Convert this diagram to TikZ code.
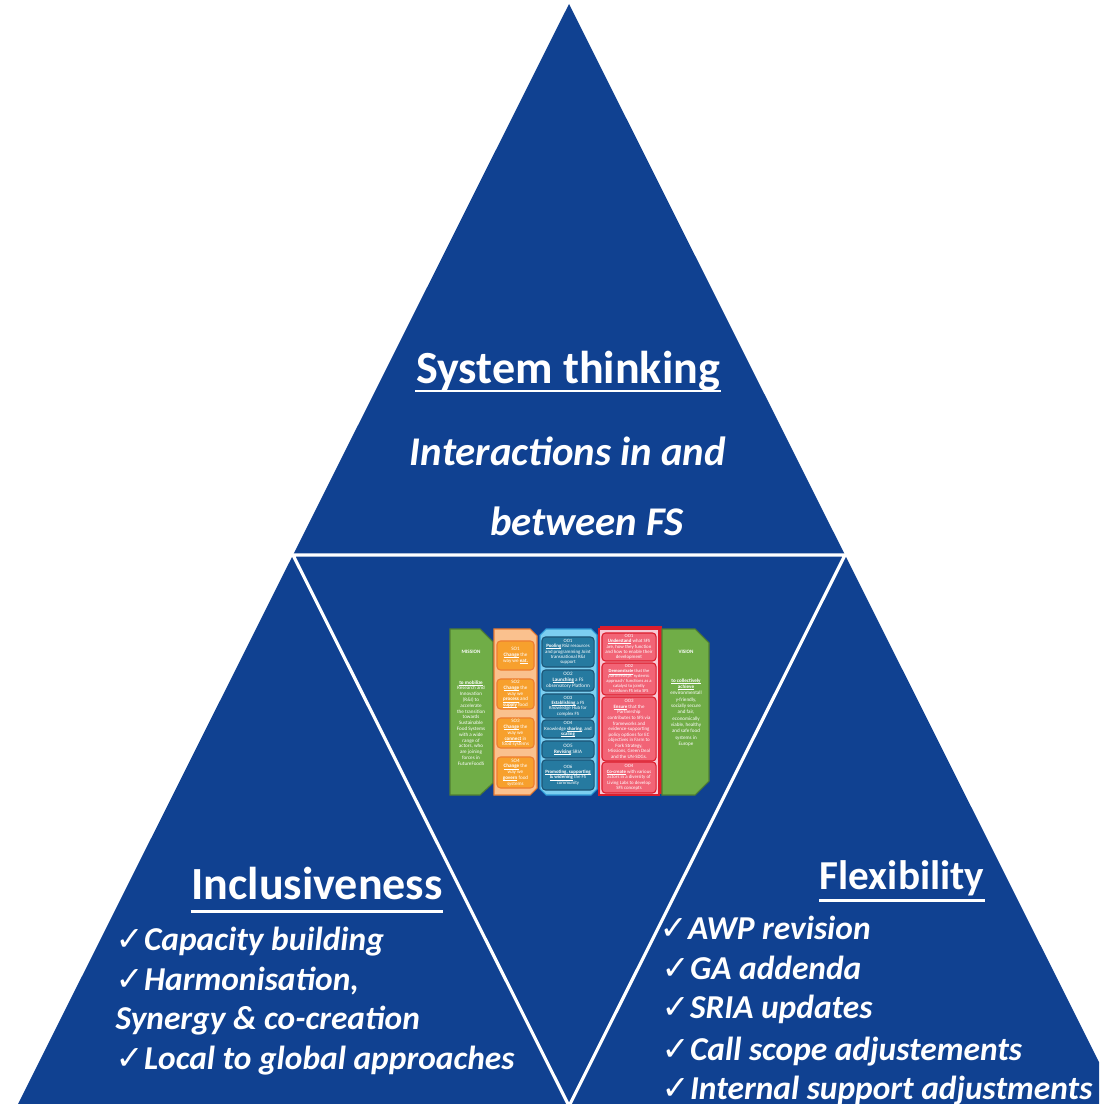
\documentclass[tikz,border=0pt]{standalone}
\usepackage{fontspec}
\setmainfont{Carlito}
\newfontfamily\checkfont{DejaVu Sans}
\usetikzlibrary{calc,positioning}

\definecolor{fsblue}{RGB}{16,65,145}
\definecolor{fsgreen}{RGB}{112,173,71}
\definecolor{fsgreendark}{RGB}{80,126,50}
\definecolor{sopanel}{RGB}{250,193,142}
\definecolor{soline}{RGB}{237,125,49}
\definecolor{sofill}{RGB}{247,160,45}
\definecolor{oopanel}{RGB}{124,206,240}
\definecolor{ooline}{RGB}{46,155,215}
\definecolor{oofill}{RGB}{38,122,160}
\definecolor{oodark}{RGB}{28,84,118}
\definecolor{iopanel}{RGB}{248,200,212}
\definecolor{ioline}{RGB}{220,30,45}
\definecolor{iofill}{RGB}{242,100,118}

\newcommand\chk{{\checkfont\mdseries ✓}\hspace{0.1pt}}
\newcommand\tinyfs{\fontsize{1.45}{1.65}\selectfont}
\newcommand\tighterfs{\fontsize{1.38}{1.52}\selectfont}
\newcommand\key[1]{\textbf{\setbox0\hbox{#1}\rlap{\rule[-0.3pt]{\wd0}{0.12pt}}\box0}}

\tikzset{
  gapline/.style={white, line width=0.9pt, line join=miter},
  heading/.style={text=white, inner sep=0pt, anchor=base, font=\bfseries\fontsize{13.1}{15}\selectfont},
  subhead/.style={text=white, inner sep=0pt, anchor=base, font=\bfseries\itshape\fontsize{11.6}{13}\selectfont},
  ulrule/.style={white, line width=0.85pt},
  item/.style={text=white, inner sep=0pt, anchor=base west, font=\bfseries\itshape\fontsize{9.5}{11.4}\selectfont},
  tinytext/.style={text=white, inner sep=0pt, align=center, font=\tinyfs},
  panel/.style={line width=0.3pt},
  smallbox/.style={tinytext, rounded corners=1pt, line width=0.3pt, inner sep=0.1pt},
  sobox/.style={smallbox, fill=sofill, draw=soline, minimum width=0.37cm},
  oobox/.style={smallbox, fill=oofill, draw=oodark, minimum width=0.52cm},
  iobox/.style={smallbox, fill=iofill, draw=ioline, minimum width=0.54cm},
}

\begin{document}
\begin{tikzpicture}[x=0.01cm,y=-0.01cm]
  \useasboundingbox (0,0) rectangle (1099,1104);
  \clip (0,0) rectangle (1099,1104);

  % the big triangle, cut in four
  \coordinate (apex) at (569,4);
  \coordinate (bl) at (17,1106);
  \coordinate (br) at (1121,1106);
  \coordinate (ml) at ($(apex)!0.5!(bl)$);
  \coordinate (mr) at ($(apex)!0.5!(br)$);
  \coordinate (mb) at ($(bl)!0.5!(br)$);
  \fill[fsblue] (apex) -- (br) -- (bl) -- cycle;
  \draw[gapline] (ml) -- (mr) -- (mb) -- cycle;

  % top
  \node[heading] (sys) at (568,384) {System thinking};
  \draw[ulrule] ($(sys.base west)+(0,7)$) -- ($(sys.base east)+(0,7)$);
  \node[subhead] (inter) at (568,466) {Interactions in and};
  \node[subhead] (betw) at (587,536) {between FS};

  % left
  \node[heading] (incl) at (317,899) {Inclusiveness};
  \draw[ulrule] ($(incl.base west)+(0,12)$) -- ($(incl.base east)+(0,12)$);
  \node[item] (cap) at (115,950) {\chk Capacity building};
  \node[item] (harm) at (115,990) {\chk Harmonisation,};
  \node[item] (syn) at (115,1029) {Synergy \& co-creation};
  \node[item] (loc) at (115,1069) {\chk Local to global approaches};

  % right
  \node[heading, font=\bfseries\fontsize{11.7}{14}\selectfont] (flex) at (902,889) {Flexibility};
  \draw[ulrule] ($(flex.base west)+(0,11)$) -- ($(flex.base east)+(0,11)$);
  \node[item] (awp) at (659,939) {\chk AWP revision};
  \node[item] (ga) at (661,979) {\chk GA addenda};
  \node[item] (sria) at (661,1018) {\chk SRIA updates};
  \node[item] (call) at (661,1060) {\chk Call scope adjustements};
  \node[item] (intl) at (661,1099) {\chk Internal support adjustments};

  % middle: mission -> objectives -> vision
  \filldraw[panel, fill=fsgreen, draw=fsgreendark] (450,629) -- (480,629) -- (493,642) -- (493,783) -- (480,795) -- (450,795) -- cycle;
  \node[tinytext] (mis) at (471,652) {\textbf{MISSION}};
  \node[tinytext] (mistext) at (471,723) {\key{to mobilize}\\Research and\\Innovation\\(R\&I) to\\accelerate\\the transition\\towards\\Sustainable\\Food Systems\\with a wide\\range of\\actors, who\\are joining\\forces in\\FutureFoodS};

  \filldraw[panel, fill=sopanel, draw=soline] (494,629) -- (530,629) -- (537,636) -- (537,788) -- (530,795) -- (494,795) -- cycle;
  \node[sobox, minimum height=0.29cm] (so1) at (515.5,655.5) {SO1\\\key{Change} the\\way we \key{eat.}};
  \node[sobox, minimum height=0.30cm] (so2) at (515.5,694) {SO2\\\key{Change} the\\way we\\\key{process} and\\\key{supply} food};
  \node[sobox, minimum height=0.30cm] (so3) at (515.5,733) {SO3\\\key{Change} the\\way we\\\key{connect} in\\food systems};
  \node[sobox, minimum height=0.31cm] (so4) at (515.5,772.5) {SO4\\\key{Change} the\\way we\\\key{govern} food\\systems};

  \filldraw[panel, fill=oopanel, draw=ooline] (546,629) -- (591,629) -- (597,635) -- (597,789) -- (591,795) -- (546,795) -- (540,789) -- (540,635) -- cycle;
  \node[oobox, minimum height=0.30cm, font=\tighterfs] (oo1) at (568,652) {OO1\\\key{Pooling} R\&I resources\\and programming Joint\\transnational R\&I\\support};
  \node[oobox, minimum height=0.21cm] (oo2) at (568,680.5) {OO2\\\key{Launching} a FS\\observatory Platform};
  \node[oobox, minimum height=0.24cm, font=\tighterfs] (oo3) at (568,706) {OO3\\\key{Establishing} a FS\\Knowledge Hub for\\complex FS};
  \node[oobox, minimum height=0.18cm, font=\tighterfs] (oo4) at (568,729) {OO4\\Knowledge \key{sharing}, and\\\key{scaling}};
  \node[oobox, minimum height=0.17cm] (oo5) at (568,749.5) {OO5\\\key{Revising} SRIA};
  \node[oobox, minimum height=0.30cm, font=\tighterfs] (oo6) at (568,775) {OO6\\\key{Promoting, supporting}\\\key{\& widening} the FS\\community};

  \filldraw[panel, fill=iopanel, draw=ioline] (601,627) rectangle (661,793);
  \filldraw[panel, fill=iopanel, draw=ioline] (599,629) rectangle (659,795);
  \node[iobox, minimum height=0.28cm, font=\tighterfs] (io1) at (629,647) {OO1\\\key{Understand} what SFS\\are, how they function\\and how to enable their\\development};
  \node[iobox, minimum height=0.32cm, font=\fontsize{1.3}{1.42}\selectfont] (io2) at (629,679) {OO2\\\key{Demonstrate} that the\\partnerships `systemic\\approach' functions as a\\catalyst to jointly\\transform FS into SFS};
  \node[iobox, minimum height=0.64cm, font=\fontsize{1.4}{1.58}\selectfont] (io3) at (629,729) {OO3\\\key{Ensure} that the\\Partnership\\contributes to SFS via\\frameworks and\\evidence-supporting\\policy options for EC\\objectives in Farm to\\Fork Strategy,\\Missions, Green Deal\\and the UN-SDGs.};
  \node[iobox, minimum height=0.31cm, font=\tighterfs] (io4) at (629,777.5) {OO4\\\key{Co-create} with various\\actors in a diversity of\\Living Labs to develop\\SFS concepts};

  \filldraw[panel, fill=fsgreen, draw=fsgreendark] (662,629) -- (695,629) -- (709,643) -- (709,781) -- (695,795) -- (662,795) -- cycle;
  \node[tinytext] (vis) at (686,652) {\textbf{VISION}};
  \node[tinytext, font=\fontsize{1.45}{1.8}\selectfont] (vistext) at (686,712.5) {\key{to collectively}\\\key{achieve}\\environmentall\\y-friendly,\\socially secure\\and fair,\\economically\\viable, healthy\\and safe food\\systems in\\Europe};
\end{tikzpicture}
\end{document}
